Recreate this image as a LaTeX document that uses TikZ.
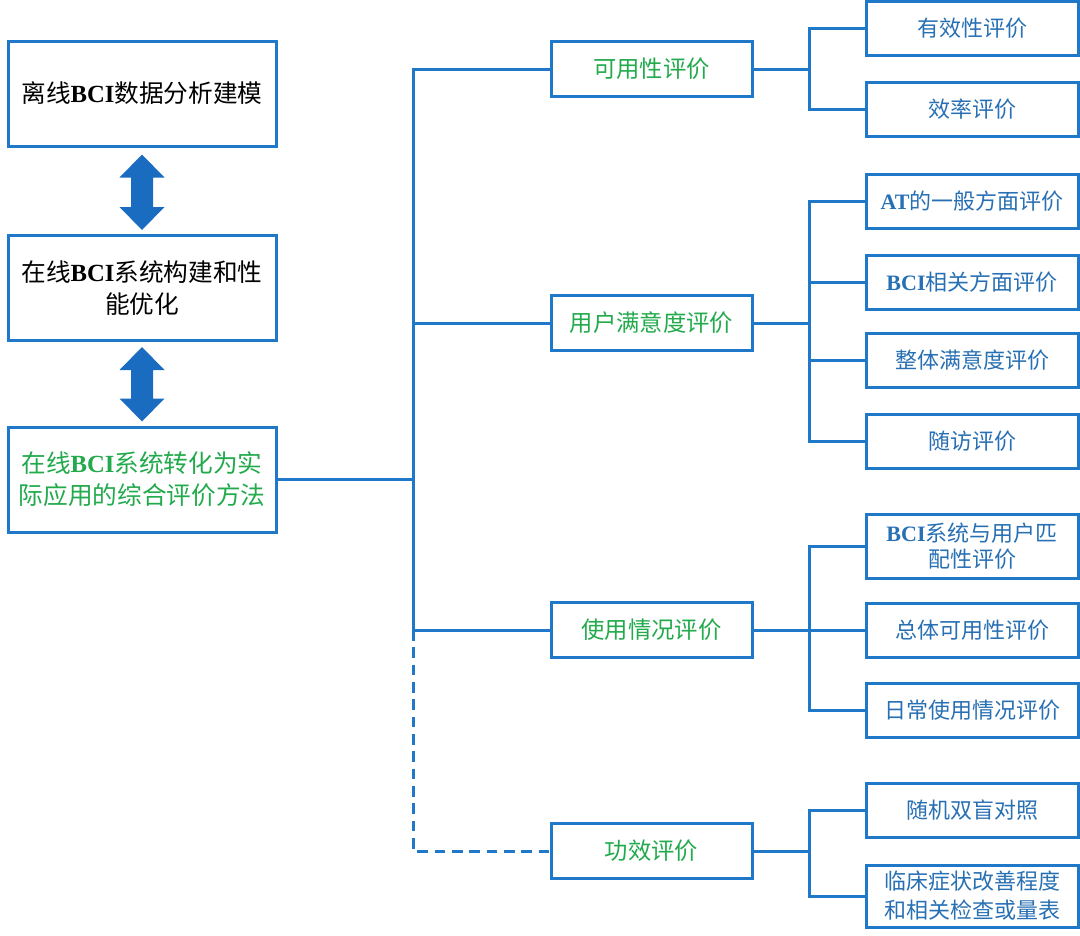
\documentclass[tikz,border=0pt]{standalone}
\usepackage{fontspec}
\setmainfont{Noto Sans CJK SC}
\newfontfamily\tnrfont{Liberation Serif}
\usetikzlibrary{calc}
\definecolor{lineblue}{RGB}{31,120,200}
\definecolor{arrowblue}{RGB}{26,108,192}
\definecolor{tgreen}{RGB}{34,170,76}
\definecolor{tblue}{RGB}{40,112,180}
\newcommand{\mybci}{{\tnrfont\bfseries BCI}}
\newcommand{\myat}{{\tnrfont\bfseries AT}}
\newcommand{\dblarrow}[2]{%
  \fill[arrowblue] (#1) -- ++(22.5,23) -- ++(-11.5,0) -- ($(#2)+(11,-23)$) -- ++(11.5,0) -- (#2)
    -- ++(-22.5,-23) -- ++(11.5,0) -- ($(#1)+(-11,23)$) -- ++(-11.5,0) -- cycle;}
\begin{document}
\begin{tikzpicture}[x=0.75pt,y=-0.75pt,
  box/.style={draw=lineblue, line width=2.25pt, fill=white, align=center, inner sep=0pt},
  lbox/.style={box, minimum width=201pt, minimum height=78.75pt, font=\fontsize{18.5}{24}\selectfont},
  mbox/.style={box, minimum width=150.75pt, minimum height=41.25pt, font=\fontsize{17.5}{22}\selectfont, text=tgreen},
  rbox/.style={box, minimum width=159pt, minimum height=40.5pt, font=\fontsize{16.5}{20}\selectfont, text=tblue},
  conn/.style={draw=lineblue, line width=2.25pt},
  dashconn/.style={conn, dash pattern=on 8pt off 5pt}]
\useasboundingbox (0,0) rectangle (1080,935);

% left column
\node[lbox, text=black] (L1) at (142,93.5) {离线\mybci 数据分析建模};
\node[lbox, text=black] (L2) at (142,288) {在线\mybci 系统构建和性\\能优化};
\node[lbox, text=tgreen] (L3) at (142,479.5) {在线\mybci 系统转化为实\\际应用的综合评价方法};

% middle column
\node[mbox] (M1) at (651.5,69) {可用性评价};
\node[mbox] (M2) at (651.5,323) {用户满意度评价};
\node[mbox] (M3) at (651.5,630) {使用情况评价};
\node[mbox] (M4) at (651.5,851) {功效评价};

% right column
\node[rbox] (R1) at (972,28) {有效性评价};
\node[rbox] (R2) at (972,109) {效率评价};
\node[rbox] (R3) at (972,201.5) {\myat 的一般方面评价};
\node[rbox] (R4) at (972,282) {\mybci 相关方面评价};
\node[rbox] (R5) at (972,360.5) {整体满意度评价};
\node[rbox] (R6) at (972,441.5) {随访评价};
\node[rbox, minimum height=48pt, font=\fontsize{16.5}{19}\selectfont] (R7) at (972,546) {\mybci 系统与用户匹\\配性评价};
\node[rbox] (R8) at (972,630) {总体可用性评价};
\node[rbox] (R9) at (972,710) {日常使用情况评价};
\node[rbox] (R10) at (972,810.5) {随机双盲对照};
\node[rbox, minimum height=46.5pt, font=\fontsize{16.5}{21.75}\selectfont] (R11) at (972,896) {临床症状改善程度\\和相关检查或量表};

% double arrows
\path (L1.south) ++(0,7) coordinate (a1t);
\path (L2.north) ++(0,-4) coordinate (a1b);
\path (L2.south) ++(0,5) coordinate (a2t);
\path (L3.north) ++(0,-4) coordinate (a2b);
\dblarrow{a1t}{a1b}
\dblarrow{a2t}{a2b}

% trunk
\coordinate (T) at (413,479.5);
\draw[conn] (L3.east) -- (T);
\draw[conn] (M1.west) -| (T) |- (M3.west);
\draw[conn] (M2.west) -- (M2.west -| T);
\draw[dashconn] (M3.west -| T) |- (M4.west);

% branches
\foreach \m/\kids in {M1/{R1,R2}, M2/{R3,R4,R5,R6}, M3/{R7,R8,R9}, M4/{R10,R11}}{
  \foreach \r in \kids {
    \draw[conn] (\m.east) -- ++(56,0) |- (\r.west);
  }
}
\end{tikzpicture}
\end{document}
